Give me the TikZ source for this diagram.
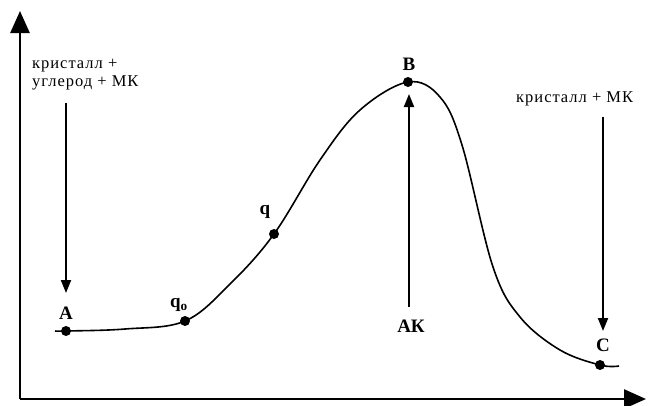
\documentclass[tikz,border=0pt]{standalone}
\usepackage{fontspec}
\setmainfont{Liberation Serif}
\newfontfamily\widefont[LetterSpace=6]{Liberation Serif}
\usetikzlibrary{arrows.meta}
\tikzset{
  axis/.style={line width=2.6pt,-{Triangle[length=22pt,width=19pt]}},
  arr/.style={line width=2pt,-{Triangle[length=13pt,width=10pt]}},
  curve/.style={line width=1.6pt},
  dot/.style={circle,fill=black,inner sep=0pt,minimum size=10pt},
  lbl/.style={font=\fontsize{19}{19}\selectfont\bfseries,inner sep=0pt},
  txt/.style={font=\widefont\fontsize{16.5}{18}\selectfont,inner sep=0pt,align=left}
}
\begin{document}
\begin{tikzpicture}[x=1pt,y=-1pt]
\useasboundingbox (0,0) rectangle (649,405);
% axes
\coordinate (O) at (20,399);
\coordinate (Ytop) at (20,11);
\coordinate (Xend) at (646,399);
\draw[axis] (O) -- (Ytop);
\draw[axis] (O) -- (Xend);
% curve
\draw[curve] plot[smooth,tension=0.6] coordinates {
 (55,331) (66,331) (125,329) (185,321) (230,284) (274,234) (320,160) (360,110) (408,82)
 (440,97) (462,145) (493,267) (520,317) (560,350) (600,365) (619,366)};
% points
\node[dot] (A) at (66,331) {};
\node[dot] (q0) at (185,321) {};
\node[dot] (q) at (274,234) {};
\node[dot] (B) at (408,82) {};
\node[dot] (C) at (600,365) {};
% point labels
\node[lbl] (Alab) at (66,313) {A};
\node[lbl] (q0lab) at (179,305) {q\textsubscript{о}};
\node[lbl] (qlab) at (265,212) {q};
\node[lbl] (Blab) at (409,64) {B};
\node[lbl] (Clab) at (603,345) {C};
\node[lbl] (AK) at (411,326) {АК};
% texts
\node[txt,anchor=north west] (txtL) at (32,59) {кристалл +\\углерод + МК};
\node[txt,anchor=north west] (txtR) at (516,91) {кристалл + МК};
% arrows
\coordinate (La) at (66,103);
\coordinate (Lb) at (66,293);
\draw[arr] (La) -- (Lb);
\coordinate (Ra) at (603,117);
\coordinate (Rb) at (603,331);
\draw[arr] (Ra) -- (Rb);
\coordinate (AKa) at (409,307);
\coordinate (AKb) at (409,94);
\draw[arr] (AKa) -- (AKb);
\end{tikzpicture}
\end{document}
